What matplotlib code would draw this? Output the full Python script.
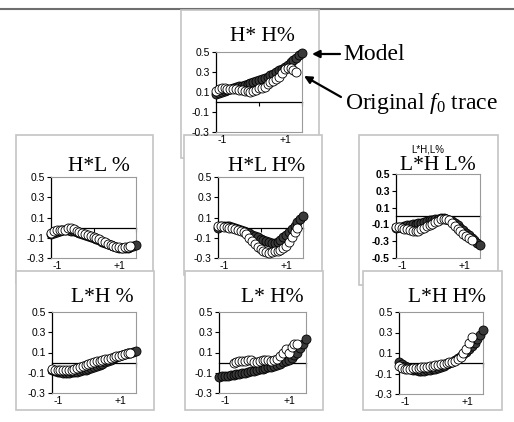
import numpy as np
import matplotlib
matplotlib.use('Agg')
import matplotlib.pyplot as plt
from matplotlib.patches import Rectangle, FancyArrowPatch
from matplotlib.lines import Line2D

plt.rcParams['mathtext.fontset'] = 'custom'
plt.rcParams['mathtext.rm'] = 'Liberation Serif'
plt.rcParams['mathtext.it'] = 'Liberation Serif:italic'

W, H = 514, 422

# ---------------- data ----------------
t_min, t_max = -1.19, 1.51
n_samples = 31
time = np.linspace(t_min, t_max, n_samples)
nan = np.nan

titles = ["H* H%", "H*L %", "H*L H%", "L*H L%", "L*H %", "L* H%", "L*H H%"]
x_tick_labels = ["-1", "+1"]
y_ticks_std = [0.5, 0.3, 0.1, -0.1, -0.3]
y_ticks_wide = [0.5, 0.3, 0.1, -0.1, -0.3, -0.5]

hh_model = [.08, .09, .10, .11, .12, .13, .14, .148, .156, .165, .173, .181, .19, .20, .21, .22,
            .232, .243, .255, .27, .285, .30, .317, .333, .35, .373, .397, .42, .443, .467, .49]
hh_orig = [.11, .13, .14, .14, .135, .13, .13, .13, .125, .12, .115, .11, .10, .11, .125, .14,
           .145, .155, .18, .20, .215, .23, .25, .29, .33, .34, .34, .32, .30, nan, nan]

hl_model = [-.06, -.05, -.04, -.03, -.027, -.025, -.025, -.03, -.035, -.04, -.05, -.06, -.07, -.08,
            -.09, -.10, -.113, -.127, -.14, -.152, -.163, -.175, -.183, -.192, -.20, -.203, -.205,
            -.205, -.195, -.183, -.17]
hl_orig = [-.05, -.035, -.025, -.02, -.02, -.025, -.005, 0.0, -.015, -.03, -.04, -.05, -.065, -.075,
           -.085, -.095, -.105, -.117, -.13, -.143, -.157, -.17, -.18, -.19, -.195, -.197, -.195,
           -.19, -.185, nan, nan]

hlh_model = [0.0, .015, .02, .02, .015, .007, 0.0, -.01, -.02, -.03, -.043, -.057, -.07, -.083, -.097,
             -.11, -.12, -.13, -.14, -.147, -.15, -.14, -.12, -.097, -.07, -.043, -.017, .02, .053,
             .083, .11]
hlh_orig = [.02, .015, .01, .005, 0.0, -.005, -.012, -.02, -.03, -.045, -.065, -.1, -.13, -.16, -.19,
            -.21, -.23, -.245, -.25, -.24, -.235, -.23, -.22, -.205, -.18, -.14, -.09, -.04, 0.0,
            nan, nan]

lhl_model = [-.14, -.133, -.127, -.12, -.113, -.107, -.10, -.093, -.087, -.08, -.07, -.06, -.05, -.043,
             -.037, -.03, -.022, -.022, -.03, -.045, -.062, -.08, -.11, -.14, -.17, -.2, -.23, -.26,
             -.29, -.32, -.35]
lhl_orig = [-.13, -.135, -.14, -.15, -.16, -.17, -.18, -.18, -.175, -.16, -.14, -.12, -.105, -.09, -.07,
            -.055, -.04, -.03, -.035, -.05, -.08, -.12, -.15, -.18, -.21, -.24, -.265, -.28, nan, nan, nan]

lh_model = [-.07, -.08, -.09, -.095, -.098, -.1, -.1, -.097, -.093, -.09, -.083, -.077, -.07, -.06, -.05,
            -.04, -.03, -.02, -.01, .003, .017, .03, .042, .053, .065, .075, .085, .095, .1, .105, .11]
lh_orig = [-.065, -.068, -.07, -.073, -.075, -.074, -.072, -.068, -.062, -.055, -.045, -.035, -.025,
           -.013, -.003, .007, .015, .02, .027, .033, .04, .048, .055, .062, .067, .075, .083, .093, .1,
           nan, nan]

lsh_model = [-.14, -.137, -.133, -.13, -.125, -.12, -.115, -.11, -.105, -.1, -.093, -.087, -.08, -.073,
             -.067, -.06, -.053, -.047, -.04, -.03, -.02, -.01, .003, .017, .03, .05, .075, .1, .14,
             .185, .23]
lsh_orig = [nan, nan, nan, nan, nan, 0.0, .01, .015, .02, .02, .025, .03, .005, .01, .02, .025, .03,
            .025, .02, .025, .04, .065, .1, .13, .1, .15, .18, .18, nan, nan, nan]

lhh_model = [.015, -.005, -.025, -.04, -.052, -.063, -.07, -.073, -.075, -.075, -.07, -.065, -.06, -.052,
             -.043, -.035, -.023, -.012, 0.0, .017, .033, .05, .07, .09, .11, .14, .17, .2, .24, .28, .32]
lhh_orig = [-.03, -.045, -.055, -.06, -.055, -.05, -.045, -.042, -.038, -.035, -.032, -.028, -.025, -.02,
            -.015, -.01, -.003, .003, .01, .017, .023, .04, .065, .1, .14, .2, .26, nan, nan, nan, nan]

models = [hh_model, hl_model, hlh_model, lhl_model, lh_model, lsh_model, lhh_model]
origs = [hh_orig, hl_orig, hlh_orig, lhl_orig, lh_orig, lsh_orig, lhh_orig]

# ---------------- layout (pixels) ----------------
frames = [(181, 10, 319, 158, 1.0),
          (16, 135, 153, 283, 2.0), (184, 135, 322, 275, 2.0), (359, 135, 498, 285, 2.0),
          (16, 271, 154, 410, 3.0), (185, 271, 323, 410, 3.0), (363, 271, 502, 410, 3.0)]
axes_px = [(216, 52, 302, 132), (51, 177, 136, 258), (218, 177, 303, 258), (396, 174, 480, 258),
           (52, 312, 136, 393), (219, 312, 306, 393), (399, 312, 483, 394)]
title_pos = [(262, 41), (99, 171), (267, 171), (438, 170), (102, 302), (272, 302), (447, 302)]

fig = plt.figure(figsize=(W / 100, H / 100), dpi=100)

# top rule
fig.add_artist(Line2D([0, 1], [1 - 9 / H, 1 - 9 / H], transform=fig.transFigure,
                      color='#6e6e6e', lw=1.5, zorder=0.5))

for (x0, y0, x1, y1, z) in frames:
    fig.add_artist(Rectangle((x0 / W, 1 - y1 / H), (x1 - x0) / W, (y1 - y0) / H,
                             transform=fig.transFigure, fc='white', ec='#c4c4c4', lw=1.2, zorder=z))

for i, (x0, y0, x1, y1) in enumerate(axes_px):
    ax = fig.add_axes([x0 / W, 1 - y1 / H, (x1 - x0) / W, (y1 - y0) / H])
    ax.set_zorder(10 + i)
    wide = (i == 3)
    yt = y_ticks_wide if wide else y_ticks_std
    ax.set_ylim(min(yt), max(yt))
    ax.set_xlim(t_min, t_max)
    ax.set_facecolor('white')
    for s in ['top', 'right', 'bottom']:
        ax.spines[s].set_color('#9a9a9a')
        ax.spines[s].set_linewidth(0.8)
    ax.spines['left'].set_color('black')
    ax.spines['left'].set_linewidth(0.9)
    ax.set_yticks(yt)
    ax.set_yticklabels([f"{v:.1f}" for v in yt],
                       fontweight='bold' if wide else 'normal', fontfamily='Liberation Sans')
    ax.tick_params(axis='y', direction='out', length=3, width=0.8, pad=1.5, labelsize=7.5)
    ax.set_xticks([-1, 1])
    ax.set_xticklabels(x_tick_labels, fontfamily='Liberation Sans')
    ax.tick_params(axis='x', length=0, pad=2, labelsize=7.5)

    sec = ax.secondary_xaxis(0, transform=ax.transData)
    sec.set_xticks([(t_min + t_max) / 2, t_max])
    sec.tick_params(axis='x', direction='out', length=3, width=0.8, labelbottom=False,
                    labeltop=False, colors='black')
    for s in ['top', 'bottom']:
        sec.spines[s].set_color('black')
        sec.spines[s].set_linewidth(0.9)

    ax.plot(time, models[i], 'o', ls='none', ms=6.5, mfc='#3a3a3a', mec='black', mew=0.6,
            clip_on=False, zorder=3)
    ax.plot(time, origs[i], 'o', ls='none', ms=6.5, mfc='white', mec='black', mew=0.6,
            clip_on=False, zorder=4)

    tx, ty = title_pos[i]
    fig.text(tx / W, 1 - ty / H, titles[i], ha='center', va='baseline',
             fontfamily='Liberation Serif', fontsize=15.5, zorder=20)

fig.text(428 / W, 1 - 153 / H, "L*H,L%", ha='center', va='baseline',
         fontfamily='Liberation Sans', fontsize=7, zorder=20)

# annotations
fig.text(343 / W, 1 - 60 / H, "Model", ha='left', va='baseline',
         fontfamily='Liberation Serif', fontsize=17, zorder=20)
fig.text(345 / W, 1 - 109 / H, "Original $f_0$ trace", ha='left', va='baseline',
         fontfamily='Liberation Serif', fontsize=17, zorder=20)
arrow = dict(arrowstyle='-|>', lw=1.6, color='black', mutation_scale=11, shrinkA=0, shrinkB=0)
fig.add_artist(FancyArrowPatch((340, H - 54), (312, H - 54), transform=None, zorder=20, **arrow))
fig.add_artist(FancyArrowPatch((341, H - 97), (304, H - 76), transform=None, zorder=20, **arrow))

fig.savefig('out.png', dpi=100)
